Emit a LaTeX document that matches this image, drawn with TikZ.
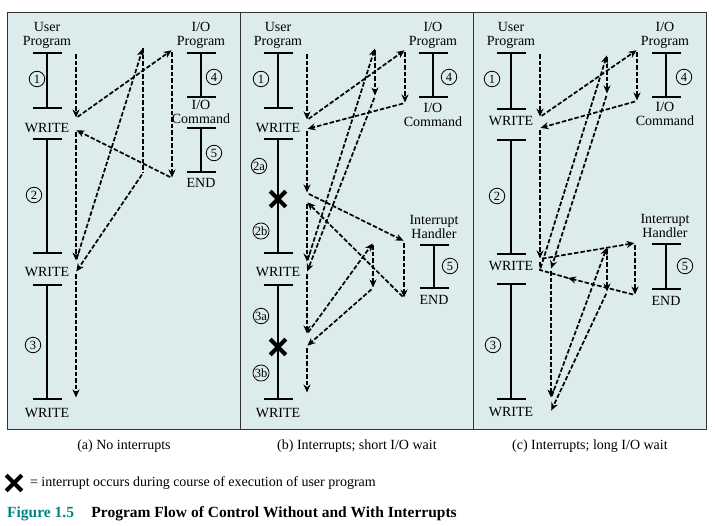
\documentclass[tikz,border=0pt]{standalone}
\usepackage{fontspec}
\setmainfont{Liberation Serif}
\usepackage{tikz}
\usetikzlibrary{positioning,arrows.meta,shapes.misc}
\usepackage{xcolor}
\definecolor{panelbg}{RGB}{220,235,235}
\definecolor{figteal}{RGB}{0,133,135}

\begin{document}
\begin{tikzpicture}[
  x=1pt, y=-1pt,
  font=\fontsize{14}{14}\selectfont,
  panel/.style={draw=black!80, line width=0.9pt, fill=panelbg, anchor=north west,
              minimum width=233pt, minimum height=417pt, inner sep=0pt},
  lbl/.style={align=center, inner sep=0pt},
  seg/.style={line width=1.7pt, {Bar[width=29pt]}-{Bar[width=29pt]}},
  num/.style={circle, draw, line width=0.8pt, minimum size=15.5pt, inner sep=0.3pt,
              font=\fontsize{12.5}{12.5}\selectfont},
  intr/.style={cross out, draw, line width=4.2pt, minimum size=11.5pt, inner sep=0pt},
  flow/.style={line width=1.7pt, dash pattern=on 4.5pt off 2pt,
              -{Stealth[length=8pt, width=7pt]}, shorten <=2pt, shorten >=0.5pt},
  dline/.style={line width=1.7pt, dash pattern=on 4.5pt off 2pt},
  subcap/.style={font=\fontsize{14}{14}\selectfont, inner sep=0pt},
  figtitle/.style={font=\fontsize{15.5}{15.5}\selectfont\bfseries, inner sep=0pt}
]
\useasboundingbox (0,0) rectangle (715,525);
% Panels
\node[panel] (pa) at (7,12) {};
\node[panel] (pb) at (240,12) {};
\node[panel] (pc) at (473,12) {};
% (a) No interrupts: user program
\node[lbl] (upa) at (47,35) {User\\Program};
\draw[seg] (47,52) -- (47,109);
\node[num] (na1) at (37,79) {1};
\node[lbl] (wa1) at (47,128) {WRITE};
\draw[seg] (47,138) -- (47,254);
\node[num] (na2) at (34,195) {2};
\node[lbl] (wa2) at (47,272) {WRITE};
\draw[seg] (47,284) -- (47,400);
\node[num] (na3) at (33,345) {3};
\node[lbl] (wa3) at (47,413) {WRITE};
% (a) I/O program
\node[lbl] (ioa) at (201,35) {I/O\\Program};
\draw[seg] (201,52) -- (201,98);
\node[num] (na4) at (214,77) {4};
\node[lbl] (cma) at (201,112) {I/O\\Command};
\draw[seg] (201,127) -- (201,173);
\node[num] (na5) at (214,153) {5};
\node[lbl] (ena) at (201,183) {END};
% (a) flow of control
\coordinate (a0) at (76,52);
\coordinate (a1) at (76,118);
\coordinate (a2) at (172,50);
\coordinate (a3) at (172,178);
\coordinate (a4) at (76,130);
\coordinate (a5) at (76,261);
\coordinate (a6) at (143,48);
\coordinate (a7) at (143,173);
\coordinate (a8) at (76,272);
\coordinate (a9) at (76,398);
\draw[flow] (a0) -- (a1);
\draw[flow] (a1) -- (a2);
\draw[flow] (a2) -- (a3);
\draw[flow] (a3) -- (a4);
\draw[flow] (a4) -- (a5);
\draw[flow] (a5) -- (a6);
\draw[dline] (a6) -- (a7);
\draw[flow] (a7) -- (a8);
\draw[flow] (a8) -- (a9);
% (b) Short I/O wait: user program
\node[lbl] (upb) at (278,35) {User\\Program};
\draw[seg] (278,52) -- (278,109);
\node[num] (nb1) at (261,79) {1};
\node[lbl] (wb1) at (278,128) {WRITE};
\draw[seg] (278,138) -- (278,254);
\node[num] (nb2a) at (259,166) {2a};
\node[intr] (xb1) at (278,199) {};
\node[num] (nb2b) at (261,231) {2b};
\node[lbl] (wb2) at (278,272) {WRITE};
\draw[seg] (278,284) -- (278,400);
\node[num] (nb3a) at (261,316) {3a};
\node[intr] (xb2) at (278,347) {};
\node[num] (nb3b) at (261,373) {3b};
\node[lbl] (wb3) at (278,413) {WRITE};
% (b) I/O program and handler
\node[lbl] (iob) at (433,35) {I/O\\Program};
\draw[seg] (433,52) -- (433,98);
\node[num] (nb4) at (449,77) {4};
\node[lbl] (cmb) at (433,115) {I/O\\Command};
\node[lbl] (ihb) at (434,227) {Interrupt\\Handler};
\draw[seg] (434,244) -- (434,289);
\node[num] (nb5) at (450,266) {5};
\node[lbl] (enb) at (434,300) {END};
% (b) flow of control
\coordinate (b0) at (307,52);
\coordinate (b1) at (307,120);
\coordinate (b2) at (405,50);
\coordinate (b3) at (405,103);
\coordinate (b4) at (307,129);
\coordinate (b5) at (307,193);
\coordinate (b6) at (404,241);
\coordinate (b7) at (404,298);
\coordinate (b8) at (307,202);
\coordinate (b9) at (307,262);
\coordinate (b10) at (375,48);
\coordinate (b11) at (375,96);
\coordinate (b12) at (307,272);
\coordinate (b13) at (307,334);
\coordinate (b14) at (373,243);
\coordinate (b15) at (373,288);
\coordinate (b16) at (307,346);
\coordinate (b17) at (307,393);
\draw[flow] (b0) -- (b1);
\draw[flow] (b1) -- (b2);
\draw[flow] (b2) -- (b3);
\draw[flow] (b3) -- (b4);
\draw[flow] (b4) -- (b5);
\draw[flow] (b5) -- (b6);
\draw[flow] (b6) -- (b7);
\draw[flow] (b7) -- (b8);
\draw[flow] (b8) -- (b9);
\draw[flow] (b9) -- (b10);
\draw[flow] (b10) -- (b11);
\draw[flow] (b11) -- (b12);
\draw[flow] (b12) -- (b13);
\draw[flow] (b13) -- (b14);
\draw[flow] (b14) -- (b15);
\draw[flow] (b15) -- (b16);
\draw[flow] (b16) -- (b17);
% (c) Long I/O wait: user program
\node[lbl] (upc) at (511,35) {User\\Program};
\draw[seg] (511,52) -- (511,110);
\node[num] (nc1) at (492,79) {1};
\node[lbl] (wc1) at (511,121) {WRITE};
\draw[seg] (511,139) -- (511,255);
\node[num] (nc2) at (497,196) {2};
\node[lbl] (wc2) at (511,266) {WRITE};
\draw[seg] (511,283) -- (511,400);
\node[num] (nc3) at (493,345) {3};
\node[lbl] (wc3) at (511,412) {WRITE};
% (c) I/O program and handler
\node[lbl] (ioc) at (665,35) {I/O\\Program};
\draw[seg] (666,52) -- (666,98);
\node[num] (nc4) at (684,77) {4};
\node[lbl] (cmc) at (665,114) {I/O\\Command};
\node[lbl] (ihc) at (665,226) {Interrupt\\Handler};
\draw[seg] (666,243) -- (666,290);
\node[num] (nc5) at (685,266) {5};
\node[lbl] (enc) at (666,301) {END};
% (c) flow of control
\coordinate (c0) at (540,52);
\coordinate (c1) at (540,117);
\coordinate (c2) at (637,50);
\coordinate (c3) at (637,101);
\coordinate (c4) at (540,128);
\coordinate (c5) at (540,259);
\coordinate (c6) at (635,243);
\coordinate (c7) at (635,295);
\coordinate (c8) at (568,278);
\coordinate (c9) at (540,270);
\coordinate (c10) at (607,55);
\coordinate (c11) at (607,94);
\coordinate (c12) at (551,269);
\coordinate (c13) at (551,398);
\coordinate (c14) at (607,247);
\coordinate (c15) at (607,292);
\coordinate (c16) at (551,411);
\draw[flow] (c0) -- (c1);
\draw[flow] (c1) -- (c2);
\draw[flow] (c2) -- (c3);
\draw[flow] (c3) -- (c4);
\draw[flow] (c4) -- (c5);
\draw[flow] (c5) -- (c6);
\draw[flow] (c6) -- (c7);
\draw[flow, shorten >=0pt] (c7) -- (c8);
\draw[dline, shorten >=3pt] (c8) -- (c9) -- (c5);
\draw[flow] (c9) -- (c10);
\draw[flow] (c10) -- (c11);
\draw[flow] (c11) -- (c12);
\draw[flow] (c12) -- (c13);
\draw[flow] (c13) -- (c14);
\draw[flow] (c14) -- (c15);
\draw[flow] (c15) -- (c16);
% Captions
\node[subcap, below=10pt of pa] (capa) {(a) No interrupts};
\node[subcap, below=10pt of pb] (capb) {(b) Interrupts; short I/O wait};
\node[subcap, below=10pt of pc] (capc) {(c) Interrupts; long I/O wait};
\node[intr] (xkey) at (14,483) {};
\node[subcap, right=8pt of xkey] (key) {= interrupt occurs during course of execution of user program};
\node[figtitle, text=figteal, anchor=west] (fig) at (7,514) {Figure 1.5};
\node[figtitle, right=17pt of fig] (title) {Program Flow of Control Without and With Interrupts};
\end{tikzpicture}
\end{document}
